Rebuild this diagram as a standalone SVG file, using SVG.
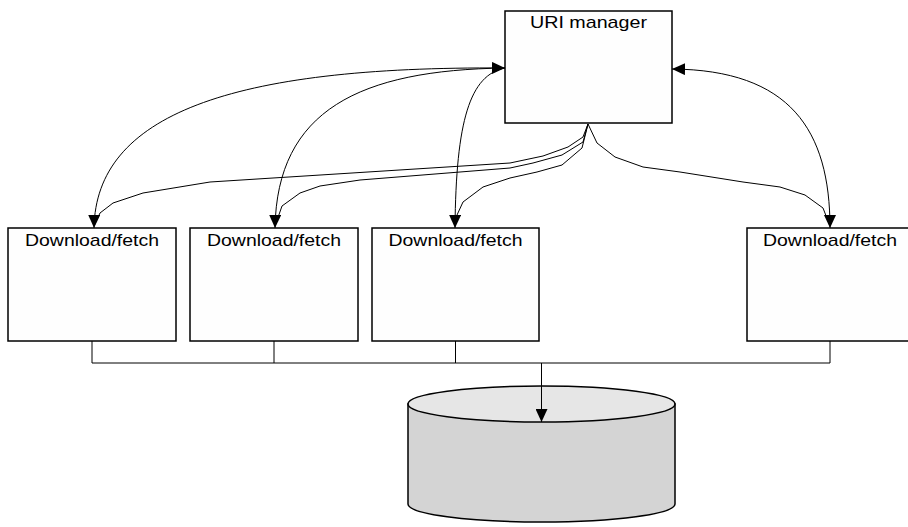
<svg xmlns="http://www.w3.org/2000/svg" width="908" height="527" viewBox="0 0 908 527">
  <style>
    .box { fill: #fefefe; stroke: #000; stroke-width: 1.5; }
    .label { font-family: "Liberation Sans", Arial, sans-serif; font-size: 17px; fill: #000; text-anchor: middle; }
    .wire { fill: none; stroke: #000; stroke-width: 1; }
    .db-top { fill: #e6e6e6; stroke: #000; stroke-width: 1.5; }
    .db-body { fill: #d4d4d4; stroke: #000; stroke-width: 1.5; }
  </style>
  <defs>
    <marker id="arrow" viewBox="0 0 13 12" refX="13" refY="6" markerWidth="13" markerHeight="12" markerUnits="userSpaceOnUse" orient="auto-start-reverse">
      <path d="M0,0 L13,6 L0,12 Z" fill="#000"/>
    </marker>
  </defs>

  <rect width="908" height="527" fill="#fff"/>

  <!-- storage cylinder -->
  <g id="storage">
    <path class="db-body" d="M408,404 L408,504 A133.5,18 0 0 0 675,504 L675,404 Z"/>
    <ellipse class="db-top" cx="541.5" cy="404" rx="133.5" ry="18"/>
  </g>

  <!-- nodes -->
  <g id="uri-manager">
    <rect class="box" x="505" y="11" width="167" height="112"/>
    <text class="label" x="588.5" y="28" textLength="117" lengthAdjust="spacingAndGlyphs">URI manager</text>
  </g>
  <g id="fetch-1">
    <rect class="box" x="8" y="228" width="168" height="113"/>
    <text class="label" x="92" y="246" textLength="134" lengthAdjust="spacingAndGlyphs">Download/fetch</text>
  </g>
  <g id="fetch-2">
    <rect class="box" x="190" y="228" width="168" height="113"/>
    <text class="label" x="274" y="246" textLength="134" lengthAdjust="spacingAndGlyphs">Download/fetch</text>
  </g>
  <g id="fetch-3">
    <rect class="box" x="372" y="228" width="167" height="113"/>
    <text class="label" x="455.5" y="246" textLength="134" lengthAdjust="spacingAndGlyphs">Download/fetch</text>
  </g>
  <g id="fetch-4">
    <rect class="box" x="747" y="228" width="168" height="113"/>
    <text class="label" x="830" y="246" textLength="134" lengthAdjust="spacingAndGlyphs">Download/fetch</text>
  </g>

  <!-- connectors -->
  <g id="connectors">
    <!-- two-way links between the manager and each fetcher -->
    <path class="wire" d="M505,68 C230,66 96,115 94,228" marker-start="url(#arrow)" marker-end="url(#arrow)"/>
    <path class="wire" d="M505,68 C360,70 277,110 275,228" marker-end="url(#arrow)"/>
    <path class="wire" d="M505,68 C470,75 456,120 455,228" marker-end="url(#arrow)"/>
    <path class="wire" d="M672,69 C790,70 830,130 830,228" marker-start="url(#arrow)" marker-end="url(#arrow)"/>

    <!-- fan of links from the manager's bottom edge -->
    <polyline class="wire" points="588,124 583,137 568,147 543,156 510,163 210,182 143,193 113,203 100,213 94,226"/>
    <polyline class="wire" points="588,124 583,142 562,155 533,163 510,168 360,180 320,186 300,193 282,206 275,226"/>
    <polyline class="wire" points="588,124 582,148 562,165 537,172 510,178 483,187 463,202 457,215 455,226"/>
    <polyline class="wire" points="588,124 597,143 615,157 643,167 680,172 743,182 780,187 805,195 823,208 830,226"/>

    <!-- shared bus into storage -->
    <polyline class="wire" points="92,341 92,363 830,363 830,341"/>
    <line class="wire" x1="274" y1="341" x2="274" y2="363"/>
    <line class="wire" x1="455.5" y1="341" x2="455.5" y2="363"/>
    <line class="wire" x1="541.5" y1="363" x2="541.5" y2="422" marker-end="url(#arrow)"/>
  </g>
</svg>
